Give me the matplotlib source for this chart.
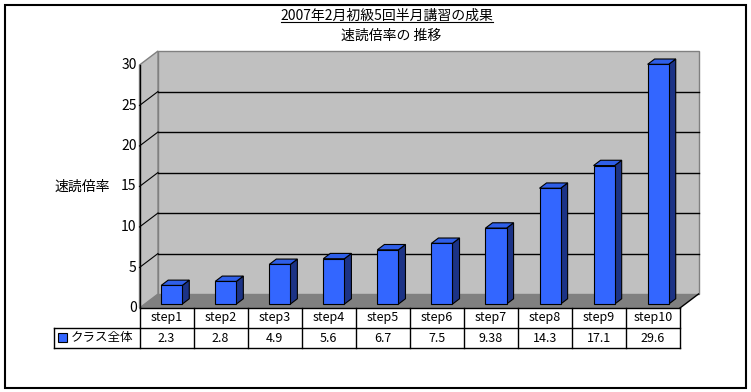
import matplotlib
matplotlib.use("Agg")
import matplotlib.pyplot as plt
from matplotlib.patches import Polygon, Rectangle
from matplotlib.lines import Line2D
from matplotlib.transforms import IdentityTransform

plt.rcParams['font.family'] = ['Noto Sans CJK JP', 'DejaVu Sans']

# data
steps = ['step1', 'step2', 'step3', 'step4', 'step5',
         'step6', 'step7', 'step8', 'step9', 'step10']
values = [2.3, 2.8, 4.9, 5.6, 6.7, 7.5, 9.38, 14.3, 17.1, 29.6]
series_name = 'クラス全体'
yticks = [0, 5, 10, 15, 20, 25, 30]
title1 = '2007年2月初級5回半月講習の成果'
title2 = '速読倍率の 推移'
ylabel = '速読倍率'

W, H = 751, 392
fig = plt.figure(figsize=(W / 100, H / 100), dpi=100)
fig.patch.set_facecolor('white')

# front plane of the 3D box, in pixels from the top-left
fx0, fx1, fy0, fy30 = 139.5, 680, 308, 65
ax = fig.add_axes([fx0 / W, (H - fy0) / H, (fx1 - fx0) / W, (fy0 - fy30) / H])
ax.set_xlim(-0.5, len(steps) - 0.5)
ax.set_ylim(0, 30)
ax.axis('off')

DX, DY = 18.5, 14.0   # depth of the box, pixels
ID = IdentityTransform()


def pt(x, y, f=0.0):
    px, py = ax.transData.transform((x, y))
    return (px + DX * f, py + DY * f)


def poly(pts, fc, ec='none', lw=0.8, z=1):
    fig.add_artist(Polygon(pts, closed=True, facecolor=fc, edgecolor=ec,
                           linewidth=lw, transform=ID, zorder=z, clip_on=False))


def line(p, q, color='black', lw=0.8, z=2):
    fig.add_artist(Line2D([p[0], q[0]], [p[1], q[1]], color=color, lw=lw,
                          transform=ID, zorder=z, clip_on=False))


xa, xb = -0.5, len(steps) - 0.5
# back wall
poly([pt(xa, 0, 1), pt(xb, 0, 1), pt(xb, 30, 1), pt(xa, 30, 1)], '#c0c0c0', '#808080', 1.0, 1)
# left wall
poly([pt(xa, 0), pt(xa, 0, 1), pt(xa, 30, 1), pt(xa, 30)], '#c0c0c0', '#808080', 1.0, 1)
# floor
poly([pt(xa, 0), pt(xb, 0), pt(xb, 0, 1), pt(xa, 0, 1)], '#808080', 'none', 0, 2)
line(pt(xb, 0), pt(xb, 0, 1), 'black', 1.0, 2)

# gridlines
for t in yticks[1:-1]:
    line(pt(xa, t, 1), pt(xb, t, 1), 'black', 1.0, 2)
    line(pt(xa, t), pt(xa, t, 1), 'black', 0.8, 2)
for t in yticks:
    p = pt(xa, t)
    fig.text((p[0] - 3) / W, p[1] / H, str(t), ha='right', va='center', fontsize=10)
# value axis line
line(pt(xa, 0), pt(xa, 30), 'black', 1.0, 3)

# bars
bw = 0.195
f1, f2 = 0.28, 0.66
for i, v in enumerate(values):
    xl, xr = i - bw, i + bw
    front = [pt(xl, 0, f1), pt(xr, 0, f1), pt(xr, v, f1), pt(xl, v, f1)]
    top = [pt(xl, v, f1), pt(xr, v, f1), pt(xr, v, f2), pt(xl, v, f2)]
    side = [pt(xr, 0, f1), pt(xr, 0, f2), pt(xr, v, f2), pt(xr, v, f1)]
    poly(side, '#1c3386', 'black', 0.8, 4)
    poly(top, '#2f5fe8', 'black', 0.8, 4)
    poly(front, '#3366ff', 'black', 0.8, 5)

# data table
row_h = 20
y_top = pt(xa, 0)[1]
y_mid = y_top - row_h
y_bot = y_mid - row_h
tab_left = 54
line((pt(xa, 0)[0], y_top), (pt(xb, 0)[0], y_top), 'black', 1.0, 3)
line((tab_left, y_mid), (pt(xb, 0)[0], y_mid), 'black', 1.0, 3)
line((tab_left, y_bot), (pt(xb, 0)[0], y_bot), 'black', 1.0, 3)
line((tab_left, y_mid), (tab_left, y_bot), 'black', 1.0, 3)
for k in range(len(steps) + 1):
    xk = pt(k - 0.5, 0)[0]
    line((xk, y_top), (xk, y_bot), 'black', 1.0, 3)
for i, (s, v) in enumerate(zip(steps, values)):
    cx = pt(i, 0)[0]
    fig.text(cx / W, (y_top - row_h / 2) / H, s, ha='center', va='center', fontsize=9)
    fig.text(cx / W, (y_mid - row_h / 2) / H, f'{v:g}', ha='center', va='center', fontsize=9)
fig.add_artist(Rectangle((58, y_mid - 14), 9, 9, facecolor='#3366ff', edgecolor='black',
                         linewidth=0.8, transform=ID, clip_on=False, zorder=4))
fig.text(71 / W, (y_mid - row_h / 2) / H, series_name, ha='left', va='center', fontsize=9)

# axis label and titles
fig.text(82 / W, (H - 187) / H, ylabel, ha='center', va='center', fontsize=10)
t1 = fig.text(387 / W, (H - 16) / H, title1, ha='center', va='center', fontsize=10)
fig.text(391 / W, (H - 36) / H, title2, ha='center', va='center', fontsize=10)
fig.canvas.draw()
bb = t1.get_window_extent()
line((bb.x0, H - 21.5), (bb.x1, H - 21.5), 'black', 0.8, 3)

# outer border
fig.add_artist(Rectangle((5, H - 388), 741, 383, facecolor='none', edgecolor='black',
                         linewidth=1.5, transform=ID, clip_on=False, zorder=6))

fig.savefig('out.png', dpi=100)
